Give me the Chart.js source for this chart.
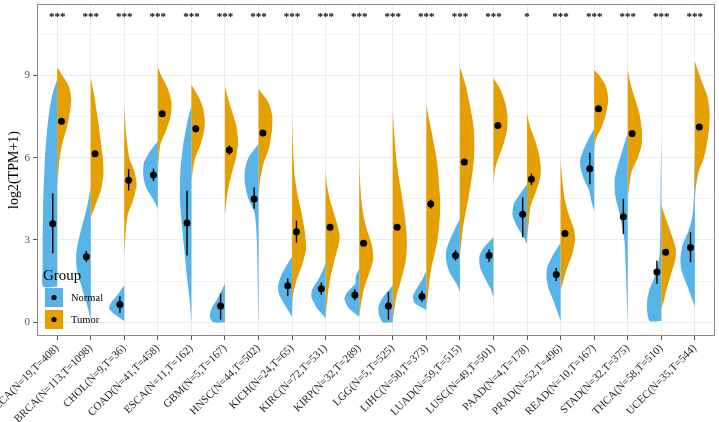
<!DOCTYPE html>
<html>
<head>
<meta charset="utf-8">
<script src="https://cdn.jsdelivr.net/npm/chart.js@4.4.1/dist/chart.umd.min.js"></script>
<style>
  html, body { margin: 0; padding: 0; background: #fff; }
</style>
</head>
<body>
<canvas id="c" width="719" height="422"></canvas>
<script>
// categories and sample sizes
const cancers = ['BLCA','BRCA','CHOL','COAD','ESCA','GBM','HNSC','KICH','KIRC','KIRP',
                 'LGG','LIHC','LUAD','LUSC','PAAD','PRAD','READ','STAD','THCA','UCEC'];
const sizes = ['N=19,T=408','N=113,T=1098','N=9,T=36','N=41,T=458','N=11,T=162','N=5,T=167',
               'N=44,T=502','N=24,T=65','N=72,T=531','N=32,T=289','N=5,T=525','N=50,T=373',
               'N=59,T=515','N=49,T=501','N=4,T=178','N=52,T=496','N=10,T=167','N=32,T=375',
               'N=58,T=510','N=35,T=544'];
const stars = ['***','***','***','***','***','***','***','***','***','***',
               '***','***','***','***','*','***','***','***','***','***'];

// point estimate and error bar per group
const normalMean = [3.59,2.39,0.65,5.37,3.62,0.59,4.49,1.33,1.22,0.99,0.59,0.94,2.43,2.43,3.94,1.74,5.6,3.85,1.83,2.73];
const normalLo   = [2.51,2.2,0.35,5.15,2.43,0.1,4.14,0.96,1.0,0.8,0.1,0.75,2.25,2.2,3.1,1.5,5.03,3.22,1.4,2.19];
const normalHi   = [4.69,2.6,0.95,5.6,4.79,1.05,4.91,1.6,1.45,1.2,1.1,1.15,2.62,2.65,4.55,1.98,6.18,4.5,2.25,3.28];
const tumorMean  = [7.33,6.14,5.18,7.6,7.05,6.28,6.9,3.3,3.46,2.88,3.46,4.31,5.84,7.17,5.21,3.24,7.78,6.88,2.55,7.12];
const tumorLo    = [7.23,6.04,4.8,7.5,6.92,6.1,6.8,2.91,3.36,2.78,3.36,4.15,5.72,7.07,5.0,3.14,7.68,6.78,2.45,7.02];
const tumorHi    = [7.43,6.24,5.58,7.7,7.18,6.45,7.0,3.7,3.56,2.98,3.56,4.47,5.96,7.27,5.42,3.34,7.88,6.98,2.65,7.22];

// violin outlines: [log2(TPM+1), half width]
const normalShape = [
  [[1.3,0.42],[2,0.43],[3,0.43],[4,0.42],[5,0.4],[6,0.36],[7,0.3],[7.8,0.22],[8.4,0.12],[8.85,0]],
  [[0.1,0],[0.5,0.08],[1,0.2],[1.5,0.32],[2,0.42],[2.5,0.43],[3,0.36],[3.5,0.26],[4,0.15],[4.5,0.06],[4.9,0]],
  [[0.05,0],[0.3,0.3],[0.5,0.45],[0.7,0.4],[1,0.2],[1.35,0]],
  [[4.15,0],[4.5,0.15],[4.9,0.35],[5.3,0.43],[5.8,0.42],[6.2,0.25],[6.6,0]],
  [[0,0],[0.8,0.05],[1.5,0.12],[2.5,0.2],[3.5,0.28],[4.5,0.34],[5.5,0.33],[6.5,0.24],[7.3,0.12],[7.9,0]],
  [[0,0.35],[0.2,0.45],[0.5,0.4],[0.8,0.25],[1.1,0.12],[1.4,0]],
  [[0.05,0],[1,0.02],[2,0.03],[3,0.05],[3.6,0.08],[4,0.12],[4.5,0.3],[5,0.4],[5.5,0.41],[6,0.3],[6.5,0]],
  [[0.2,0],[0.6,0.2],[1,0.38],[1.3,0.42],[1.7,0.33],[2.1,0.15],[2.4,0]],
  [[0.15,0],[0.5,0.25],[0.9,0.42],[1.2,0.4],[1.6,0.2],[2,0.05],[2.2,0]],
  [[0.2,0],[0.5,0.3],[0.85,0.44],[1.1,0.35],[1.4,0.12],[1.7,0.1],[1.95,0]],
  [[0,0.3],[0.3,0.42],[0.6,0.42],[0.9,0.3],[1.2,0.1],[1.35,0]],
  [[0.45,0],[0.7,0.35],[0.95,0.4],[1.2,0.3],[1.5,0.15],[1.85,0]],
  [[1.1,0],[1.4,0.1],[1.8,0.3],[2.2,0.4],[2.6,0.41],[3,0.3],[3.4,0.15],[3.76,0]],
  [[0.9,0],[1.2,0.08],[1.6,0.25],[2,0.4],[2.4,0.42],[2.7,0.3],[2.95,0.12],[3.1,0]],
  [[2.85,0],[3.1,0.1],[3.5,0.3],[3.9,0.43],[4.3,0.4],[4.6,0.25],[5.03,0]],
  [[0.05,0],[0.4,0.1],[0.8,0.22],[1.2,0.35],[1.6,0.42],[2,0.4],[2.4,0.25],[2.9,0]],
  [[4.05,0],[4.4,0.08],[4.8,0.15],[5.2,0.3],[5.6,0.4],[5.9,0.42],[6.2,0.35],[6.6,0.2],[7.05,0]],
  [[0.05,0],[1,0.03],[2,0.06],[3,0.1],[4,0.25],[4.6,0.37],[5.2,0.39],[5.7,0.3],[6.3,0.15],[6.9,0]],
  [[0.05,0.35],[0.4,0.42],[0.8,0.42],[1.2,0.35],[1.6,0.22],[2,0.12],[2.5,0.05],[3.5,0.03],[5,0.02],[6.5,0]],
  [[0.55,0],[0.9,0.1],[1.4,0.25],[1.9,0.4],[2.3,0.43],[2.8,0.37],[3.3,0.2],[3.8,0.08],[4.5,0.03],[5.5,0.015],[6.2,0]]
];
const tumorShape = [
  [[5,0],[5.5,0.04],[6,0.08],[6.5,0.15],[7,0.27],[7.5,0.36],[8.1,0.42],[8.6,0.35],[9,0.15],[9.3,0]],
  [[3.8,0],[4.2,0.12],[4.8,0.3],[5.4,0.38],[6,0.36],[6.8,0.28],[7.5,0.2],[8.3,0.1],[8.9,0]],
  [[2.5,0],[3.2,0.04],[3.9,0.1],[4.4,0.25],[5,0.37],[5.5,0.3],[6,0.15],[6.8,0.06],[7.9,0]],
  [[5.5,0],[6,0.03],[6.5,0.08],[7,0.25],[7.5,0.38],[8,0.41],[8.5,0.3],[9,0.1],[9.3,0]],
  [[5.1,0],[5.6,0.05],[6,0.12],[6.5,0.28],[7,0.38],[7.3,0.4],[7.8,0.35],[8.2,0.22],[8.66,0]],
  [[3.9,0],[4.5,0.05],[5,0.12],[5.5,0.22],[6,0.33],[6.6,0.39],[7.2,0.33],[7.8,0.18],[8.3,0.06],[8.6,0]],
  [[4.6,0],[5.2,0.05],[5.8,0.15],[6.3,0.3],[7,0.4],[7.5,0.41],[8,0.3],[8.5,0]],
  [[0.7,0],[1.2,0.06],[1.6,0.15],[2.1,0.3],[2.7,0.42],[3.3,0.38],[4,0.28],[4.6,0.17],[5.3,0.08],[6.3,0.03],[7.4,0]],
  [[0.2,0],[0.8,0.05],[1.5,0.12],[2.2,0.25],[2.8,0.38],[3.1,0.42],[3.5,0.36],[4,0.24],[4.5,0.12],[5,0.04],[5.5,0]],
  [[0.2,0],[0.7,0.06],[1.2,0.14],[1.8,0.3],[2.3,0.42],[2.8,0.38],[3.3,0.25],[3.8,0.14],[4.5,0.06],[5.3,0.02],[6,0]],
  [[0.05,0],[0.5,0.05],[1,0.12],[1.6,0.26],[2.2,0.38],[2.8,0.42],[3.4,0.4],[4.2,0.32],[5,0.22],[5.8,0.12],[6.8,0.05],[7.7,0]],
  [[0.55,0],[1,0.05],[1.5,0.09],[2,0.15],[2.5,0.25],[3,0.33],[3.5,0.38],[4,0.41],[4.5,0.41],[5,0.38],[5.5,0.35],[6,0.3],[6.8,0.18],[7.4,0.08],[7.9,0]],
  [[2.4,0],[3,0.05],[3.5,0.1],[4,0.17],[4.5,0.25],[5,0.32],[5.5,0.38],[6,0.42],[6.5,0.43],[7,0.42],[7.5,0.36],[8,0.28],[8.6,0.18],[9.3,0]],
  [[5.1,0],[5.6,0.05],[6,0.15],[6.5,0.3],[7,0.4],[7.5,0.42],[8,0.35],[8.5,0.2],[8.9,0]],
  [[3.1,0],[3.6,0.05],[4.2,0.1],[4.7,0.25],[5.2,0.38],[5.6,0.41],[6.1,0.36],[6.6,0.25],[7.1,0.1],[7.6,0]],
  [[1.15,0],[1.5,0.08],[2,0.2],[2.5,0.35],[3,0.43],[3.4,0.4],[3.9,0.25],[4.5,0.12],[5.2,0.05],[5.9,0]],
  [[6.3,0],[6.7,0.06],[7.1,0.22],[7.5,0.33],[8.1,0.42],[8.6,0.35],[9,0.15],[9.2,0]],
  [[4.5,0],[5,0.05],[5.5,0.12],[6,0.3],[6.5,0.42],[7,0.42],[7.6,0.35],[8.2,0.2],[8.7,0.08],[9.2,0]],
  [[0.45,0],[0.8,0.08],[1.3,0.18],[1.8,0.3],[2.3,0.42],[2.7,0.43],[3.1,0.33],[3.5,0.22],[3.9,0.1],[4.3,0]],
  [[4.5,0],[5,0.04],[5.5,0.12],[6,0.27],[6.5,0.36],[7,0.42],[7.6,0.44],[8.2,0.38],[8.8,0.2],[9.5,0]]
];

const yMajor = [0, 3, 6, 9];
const yMinor = [1.5, 4.5, 7.5, 10.5];
const starLevel = 11.03;

const BLUE = '#56B4E9';
const ORANGE = '#E69F00';
const SERIF = "'Liberation Serif', 'DejaVu Serif', serif";
const OFF = 0.13;

// one half of a split violin as a closed outline
function halfViolin(c, shape, side) {
  const pts = [{x: c, y: shape[0][0]}];
  shape.forEach(([y, w]) => pts.push({x: c + side * w, y: y}));
  pts.push({x: c, y: shape[shape.length - 1][0]});
  return pts;
}

const datasets = [];
cancers.forEach((name, i) => {
  const c = i + 1;
  [[normalShape[i], -1, BLUE], [tumorShape[i], 1, ORANGE]].forEach(([shape, side, col]) => {
    datasets.push({
      data: halfViolin(c, shape, side),
      backgroundColor: col, borderColor: 'rgba(0,0,0,0)', borderWidth: 0,
      fill: 'shape', tension: 0.22, pointRadius: 0, order: 3
    });
  });
  [[c - OFF, normalLo[i], normalHi[i]], [c + OFF, tumorLo[i], tumorHi[i]]].forEach(([x, lo, hi]) => {
    datasets.push({
      data: [{x: x, y: lo}, {x: x, y: hi}],
      borderColor: '#000', borderWidth: 1.4, pointRadius: 0, fill: false, order: 1
    });
  });
});
datasets.push({
  data: cancers.map((n, i) => ({x: i + 1 - OFF, y: normalMean[i]})),
  showLine: false, pointRadius: 3.5, pointBackgroundColor: '#000', pointBorderWidth: 0, order: 0
});
datasets.push({
  data: cancers.map((n, i) => ({x: i + 1 + OFF, y: tumorMean[i]})),
  showLine: false, pointRadius: 3.5, pointBackgroundColor: '#000', pointBorderWidth: 0, order: 0
});

// stars, legend box and panel border
const extras = {
  id: 'extras',
  afterDatasetsDraw(chart) {
    const {ctx, scales: {x, y}} = chart;
    ctx.save();
    ctx.fillStyle = '#000';
    ctx.font = 'bold 11px ' + SERIF;
    ctx.textAlign = 'center';
    ctx.textBaseline = 'alphabetic';
    stars.forEach((s, i) => ctx.fillText(s, x.getPixelForValue(i + 1), y.getPixelForValue(starLevel)));

    // legend
    ctx.textAlign = 'left';
    ctx.font = '15px ' + SERIF;
    ctx.fillText('Group', 43, 280);
    [['Normal', BLUE, 288], ['Tumor', ORANGE, 310]].forEach(([lab, col, top]) => {
      ctx.fillStyle = col;
      ctx.fillRect(45, top, 18, 19);
      ctx.fillStyle = '#000';
      ctx.beginPath();
      ctx.arc(54, top + 9.5, 2.6, 0, Math.PI * 2);
      ctx.fill();
      ctx.font = '10.5px ' + SERIF;
      ctx.textBaseline = 'middle';
      ctx.fillText(lab, 71, top + 10);
      ctx.textBaseline = 'alphabetic';
    });
    ctx.restore();
  },
  afterDraw(chart) {
    const a = chart.chartArea;
    const ctx = chart.ctx;
    ctx.save();
    ctx.strokeStyle = '#8a8a8a';
    ctx.lineWidth = 1;
    ctx.strokeRect(a.left + 0.5, a.top + 0.5, a.right - a.left - 1, a.bottom - a.top - 1);
    ctx.restore();
  }
};

new Chart(document.getElementById('c'), {
  type: 'line',
  data: {datasets: datasets},
  options: {
    responsive: false,
    animation: false,
    layout: {padding: {top: 3, right: 3, left: 0, bottom: 0}},
    plugins: {legend: {display: false}, tooltip: {enabled: false}},
    scales: {
      x: {
        type: 'linear', min: 0.4, max: 20.6,
        afterBuildTicks: (axis) => { axis.ticks = cancers.map((n, i) => ({value: i + 1})); },
        afterFit: (axis) => { axis.height = 86; axis.paddingLeft = 0; axis.paddingRight = 0; },
        ticks: {
          autoSkip: false, minRotation: 45, maxRotation: 45, padding: 2,
          color: '#222', font: {family: SERIF, size: 11},
          callback: (v) => cancers[v - 1] + '(' + sizes[v - 1] + ')'
        },
        grid: {color: '#EBEBEB', lineWidth: 1, tickColor: '#555', tickLength: 4},
        border: {display: false}
      },
      y: {
        type: 'linear', min: -0.5, max: 11.6,
        afterBuildTicks: (axis) => {
          axis.ticks = yMajor.concat(yMinor).sort((a, b) => a - b).map(v => ({value: v}));
        },
        afterFit: (axis) => { axis.width = 37; axis.paddingTop = 0; axis.paddingBottom = 0; },
        ticks: {
          color: '#555', padding: 3, font: {family: SERIF, size: 11},
          callback: (v) => yMajor.includes(v) ? String(v) : ''
        },
        grid: {
          color: (c) => yMajor.includes(c.tick.value) ? '#EBEBEB' : '#F4F4F4',
          lineWidth: 1,
          tickColor: (c) => yMajor.includes(c.tick.value) ? '#555' : 'rgba(0,0,0,0)',
          tickLength: 4
        },
        border: {display: false},
        title: {display: true, text: 'log2(TPM+1)', color: '#000',
                font: {family: SERIF, size: 14}, padding: {top: 6, bottom: 0}}
      }
    }
  },
  plugins: [extras]
});
</script>
</body>
</html>
